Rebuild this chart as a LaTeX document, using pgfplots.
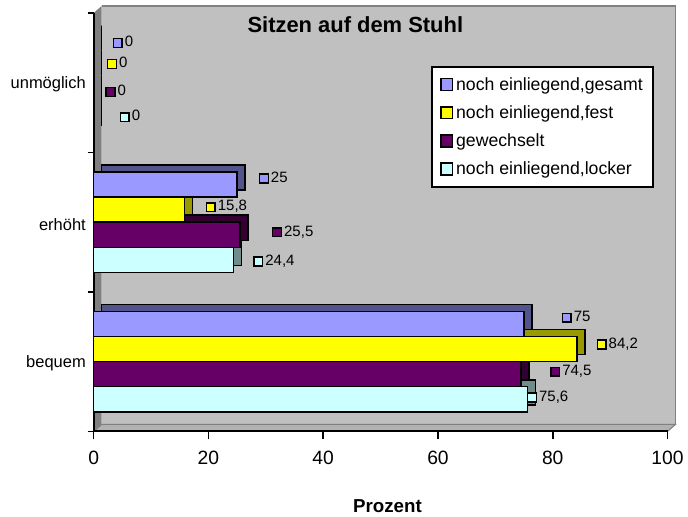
\documentclass[border=0pt]{standalone}
\usepackage{pgfplots}
\usepackage{pgfplotstable}
\pgfplotsset{compat=1.18}
\usepackage{fontspec}
\setmainfont{Liberation Sans}

\definecolor{wall}{HTML}{C0C0C0}
\definecolor{sidewall}{HTML}{808080}
\definecolor{floorc}{HTML}{B2B2B2}
\definecolor{cgesamt}{HTML}{9999FF}
\definecolor{cfest}{HTML}{FFFF00}
\definecolor{cgew}{HTML}{660066}
\definecolor{clocker}{HTML}{CCFFFF}

\setlength{\fboxrule}{1.1pt}
\setlength{\fboxsep}{0pt}
\newcommand{\sq}[1]{\fcolorbox{black}{#1}{\rule{0pt}{5.5pt}\hspace{5.5pt}}}

% y: 0 = bequem, 1 = erhoeht, 2 = unmoeglich; dx/dy = label offsets (pt)
\pgfplotstableread{
y x dx dy
0 75 27.75 5.25
1 25 15.75 5.25
2 0 13.7 2.25
}\tgesamt
\pgfplotstableread{
y x dx dy
0 84.2 14.25 4
1 15.8 15.5 2.25
2 0 9.5 5.25
}\tfest
\pgfplotstableread{
y x dx dy
0 74.5 21.2 2.25
1 25.5 23.5 2.25
2 0 8.25 3
}\tgew
\pgfplotstableread{
y x dx dy
0 75.6 -1 1.9
1 24.4 14.1 -0.75
2 0 19 3
}\tlocker

\pgfplotsset{
  front/.style={xbar, bar width=0.18, bar shift=#1, draw=black, line width=1.1pt, forget plot},
  back/.style={xbar, bar width=0.18, bar shift=#1, draw=black, line width=1.1pt, forget plot,
    xshift=6pt, yshift=5.25pt},
  % #1 colour, #2 bar shift (one category = 105pt)
  lbl/.style 2 args={
    point meta=x,
    visualization depends on={\thisrow{dx}\as\dx},
    visualization depends on={\thisrow{dy}\as\dy},
    nodes near coords={\sq{#1}\hspace{1.5pt}\pgfmathprintnumber{\pgfplotspointmeta}},
    every node near coord/.append style={anchor=west, inner sep=0pt,
      xshift={\dx*1pt}, yshift={(\dy+#2*105)*1pt}, text=black, font=\fontsize{11.3}{13}\selectfont}},
  legsq/.style={legend image code/.code={\draw[##1,draw=black,line width=1.1pt] (0pt,-4.5pt) rectangle (9pt,4.5pt);}},
}

\begin{document}
\begin{tikzpicture}
  % picture frame and 3D walls, in pixels of the reference
  \begin{scope}[x=0.75pt, y=-0.75pt, shift={(-70.5pt,324.75pt)}]
    \path[use as bounding box] (0,0) rectangle (688,517);
    \fill[wall] (102,6) -- (678,6) -- (678,426) -- (102,426) -- cycle;
    \draw[sidewall, line width=0.8pt] (102,6) -- (678,6) -- (678,426);
    \fill[sidewall] (94,433) -- (94,13) -- (102,6) -- (102,426) -- cycle;
    \filldraw[fill=floorc, draw=sidewall, line width=0.8pt] (94,433) -- (670,433) -- (678,426) -- (102,426) -- cycle;
  \end{scope}
  \begin{axis}[
    at={(0,0)}, anchor=south west, scale only axis,
    width=432pt, height=315pt,
    xmin=0, xmax=100, ymin=-0.5, ymax=2.5,
    axis lines*=left,
    axis line style={line width=1.5pt, black},
    clip=false,
    xtick={0,20,...,100},
    ytick={0,1,2},
    yticklabels={bequem,erhöht,unmöglich},
    minor ytick={-0.5,0.5,1.5,2.5},
    tick align=outside,
    major tick length=6pt, minor tick length=4.5pt,
    major y tick style={draw=none},
    minor y tick style={line width=1.2pt, black},
    major x tick style={line width=1.2pt, black},
    x tick label style={font=\fontsize{14.5}{16}\selectfont, yshift=-5.5pt},
    y tick label style={font=\fontsize{12.4}{14}\selectfont, anchor=east, xshift=3.6pt, yshift=-1.5pt},
    /pgf/number format/.cd, use comma, 1000 sep={}, assume math mode=true,
    /pgfplots/.cd,
    title={Sitzen auf dem Stuhl},
    every axis title shift=0pt,
    title style={font=\bfseries\fontsize{16.5}{18}\selectfont, at={(0.456,0.9726)}, anchor=center},
    xlabel={Prozent},
    xlabel style={font=\bfseries\fontsize{14.1}{16}\selectfont, at={(axis description cs:0.512,-0.178)}, anchor=center},
    legend style={at={(0.588,0.874)}, anchor=north west, draw=black, line width=1.5pt,
      fill=white, font=\fontsize{13.3}{15}\selectfont, row sep=6pt,
      inner xsep=6pt, inner ysep=6pt},
    legend cell align=left,
  ]
    \addplot[back=-0.27, fill=clocker!55!black] table[x=x,y=y] {\tlocker};
    \addplot[front=-0.27, fill=clocker, lbl={clocker}{-0.27}] table[x=x,y=y] {\tlocker};
    \addplot[back=-0.09, fill=cgew!50!black] table[x=x,y=y] {\tgew};
    \addplot[front=-0.09, fill=cgew, lbl={cgew}{-0.09}] table[x=x,y=y] {\tgew};
    \addplot[back=0.09, fill=cfest!60!black] table[x=x,y=y] {\tfest};
    \addplot[front=0.09, fill=cfest, lbl={cfest}{0.09}] table[x=x,y=y] {\tfest};
    \addplot[back=0.27, fill=cgesamt!55!black] table[x=x,y=y] {\tgesamt};
    \addplot[front=0.27, fill=cgesamt, lbl={cgesamt}{0.27}] table[x=x,y=y] {\tgesamt};

    \addlegendimage{legsq, fill=cgesamt}
    \addlegendentry{noch einliegend,gesamt}
    \addlegendimage{legsq, fill=cfest}
    \addlegendentry{noch einliegend,fest}
    \addlegendimage{legsq, fill=cgew}
    \addlegendentry{gewechselt}
    \addlegendimage{legsq, fill=clocker}
    \addlegendentry{noch einliegend,locker}
  \end{axis}
\end{tikzpicture}
\end{document}
